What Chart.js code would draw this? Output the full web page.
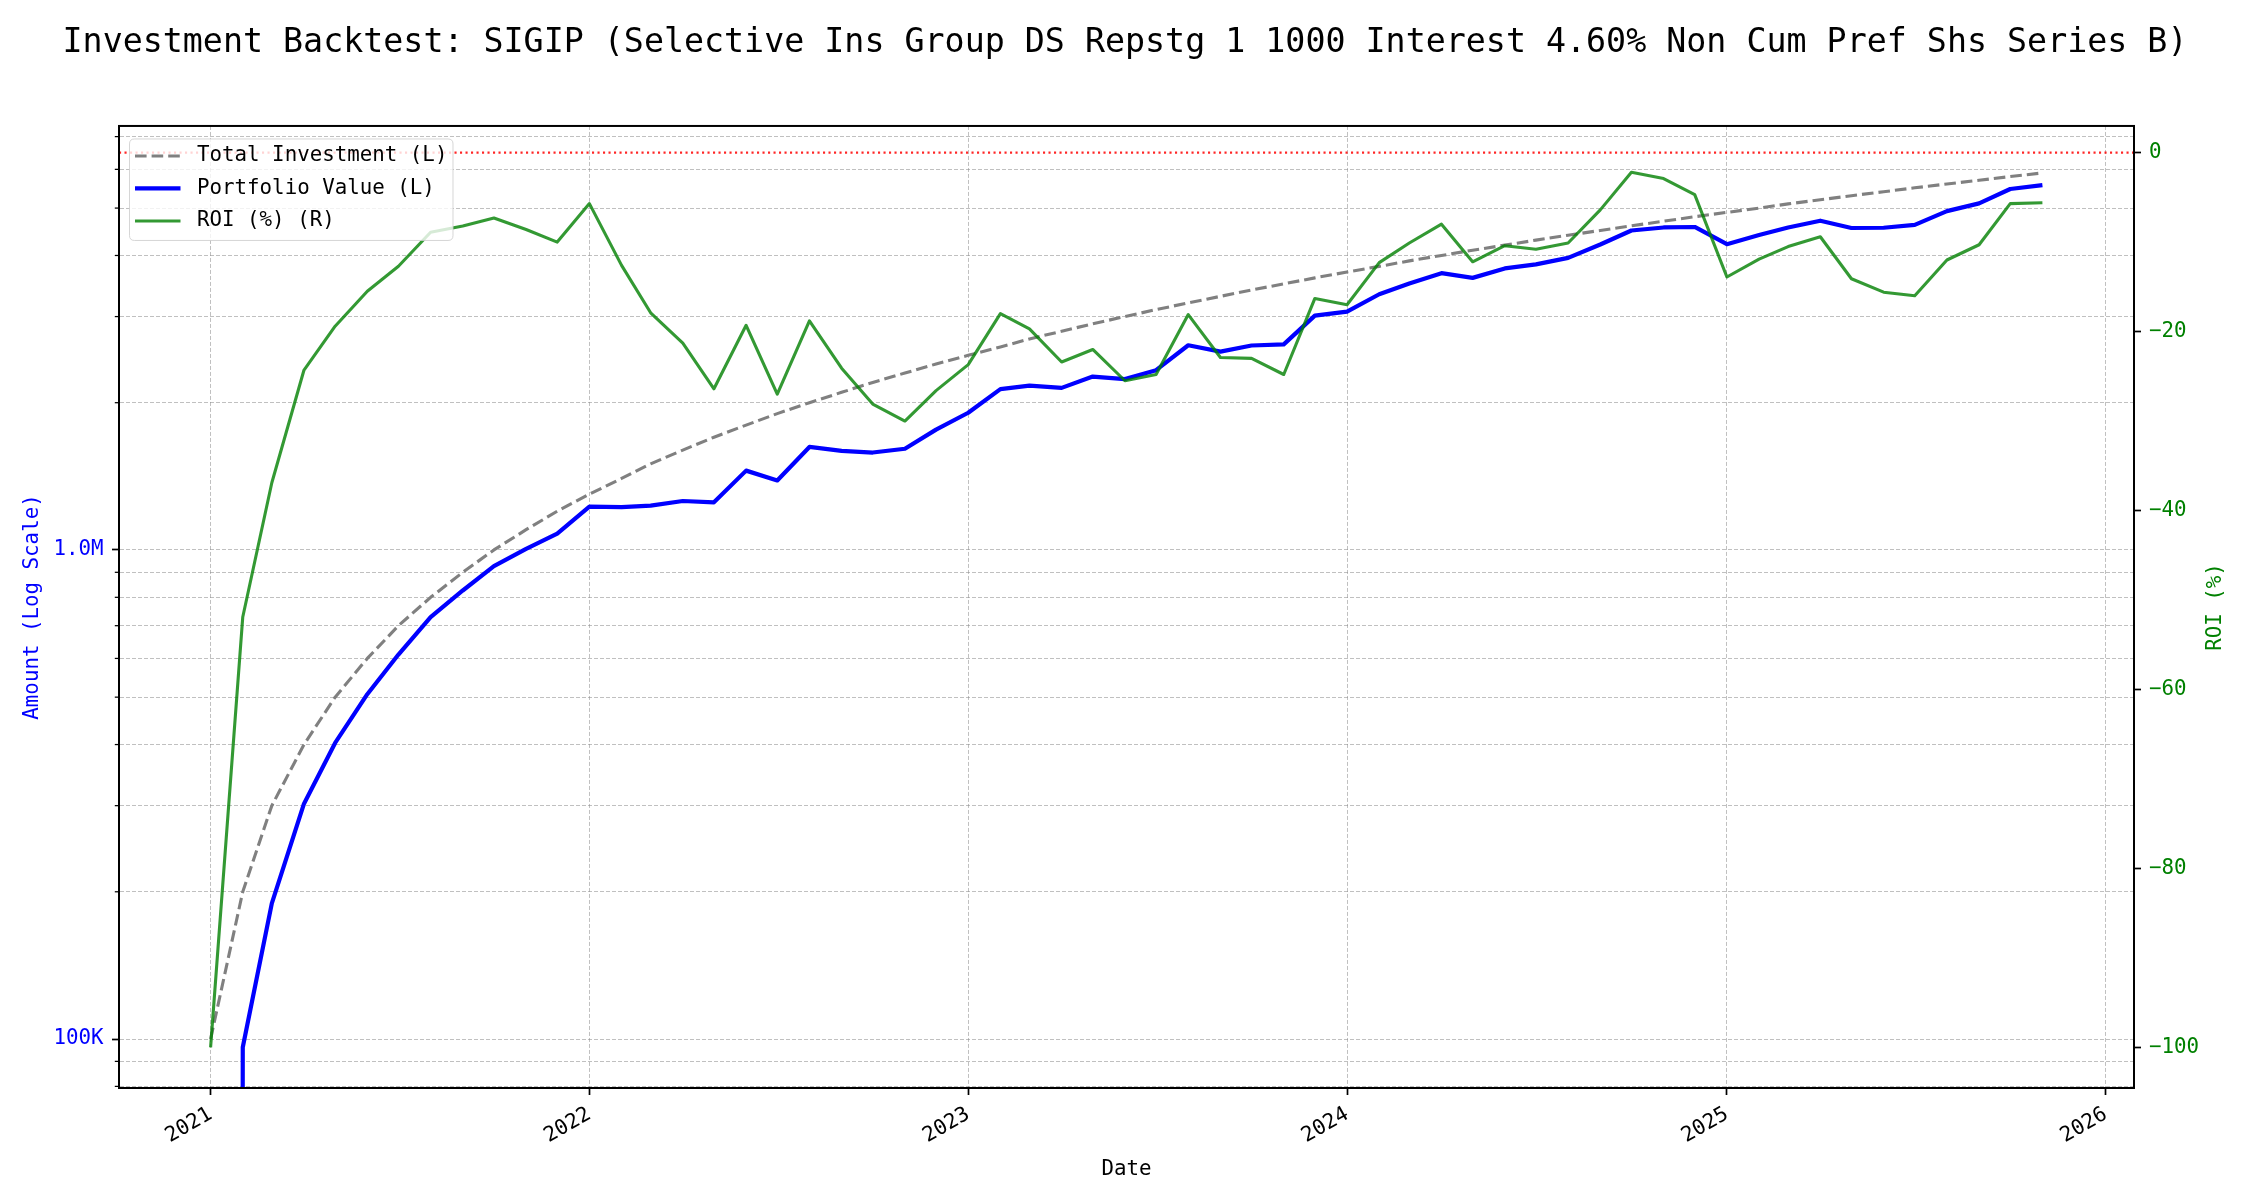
<!DOCTYPE html>
<html>
<head>
<meta charset="utf-8">
<script src="https://cdn.jsdelivr.net/npm/chart.js@4.4.1/dist/chart.umd.min.js"></script>
<style>
html,body{margin:0;padding:0;background:#ffffff;}
#wrap{width:2250px;height:1200px;}
</style>
</head>
<body>
<div id="wrap"><canvas id="c" width="2250" height="1200"></canvas></div>
<script>
// ---------------- DATA ----------------
const titleText = 'Investment Backtest: SIGIP (Selective Ins Group DS Repstg 1 1000 Interest 4.60% Non Cum Pref Shs Series B)';
const rightAxisTitle = 'ROI (%)';

const dates = [
  '2021-01-01','2021-02-01','2021-03-01','2021-04-01','2021-05-01','2021-06-01',
  '2021-07-01','2021-08-01','2021-09-01','2021-10-01','2021-11-01','2021-12-01',
  '2022-01-01','2022-02-01','2022-03-01','2022-04-01','2022-05-01','2022-06-01',
  '2022-07-01','2022-08-01','2022-09-01','2022-10-01','2022-11-01','2022-12-01',
  '2023-01-01','2023-02-01','2023-03-01','2023-04-01','2023-05-01','2023-06-01',
  '2023-07-01','2023-08-01','2023-09-01','2023-10-01','2023-11-01','2023-12-01',
  '2024-01-01','2024-02-01','2024-03-01','2024-04-01','2024-05-01','2024-06-01',
  '2024-07-01','2024-08-01','2024-09-01','2024-10-01','2024-11-01','2024-12-01',
  '2025-01-01','2025-02-01','2025-03-01','2025-04-01','2025-05-01','2025-06-01',
  '2025-07-01','2025-08-01','2025-09-01','2025-10-01','2025-11-01'
];

const totalInvestment = [
  100000, 200000, 300000, 400000, 500000, 600000, 700000, 800000, 900000, 1000000,
  1100000, 1200000, 1300000, 1400000, 1500000, 1600000, 1700000, 1800000, 1900000, 2000000,
  2100000, 2200000, 2300000, 2400000, 2500000, 2600000, 2700000, 2800000, 2900000, 3000000,
  3100000, 3200000, 3300000, 3400000, 3500000, 3600000, 3700000, 3800000, 3900000, 4000000,
  4100000, 4200000, 4300000, 4400000, 4500000, 4600000, 4700000, 4800000, 4900000, 5000000,
  5100000, 5200000, 5300000, 5400000, 5500000, 5600000, 5700000, 5800000, 5900000
];

const portfolioValue = [
  0, 96200, 189300, 302800, 403000, 507000, 611100, 728800, 826200, 927000,
  1005400, 1080000, 1225900, 1223600, 1231500, 1259200, 1251200, 1452600, 1387000, 1624000,
  1593900, 1581800, 1610000, 1761600, 1907500, 2132000, 2168100, 2144800, 2262000, 2235000,
  2331200, 2620800, 2544300, 2618000, 2632000, 3013200, 3071000, 3332600, 3506100, 3680000,
  3599800, 3763200, 3835600, 3955600, 4212000, 4498800, 4563700, 4574400, 4218900, 4405000,
  4564500, 4711200, 4552700, 4557600, 4620000, 4928000, 5112900, 5469400, 5569600
];

const roiPct = [
  -100, -51.9, -36.9, -24.3, -19.4, -15.5, -12.7, -8.9, -8.2, -7.3,
  -8.6, -10.0, -5.7, -12.6, -17.9, -21.3, -26.4, -19.3, -27.0, -18.8,
  -24.1, -28.1, -30.0, -26.6, -23.7, -18.0, -19.7, -23.4, -22.0, -25.5,
  -24.8, -18.1, -22.9, -23.0, -24.8, -16.3, -17.0, -12.3, -10.1, -8.0,
  -12.2, -10.4, -10.8, -10.1, -6.4, -2.2, -2.9, -4.7, -13.9, -11.9,
  -10.5, -9.4, -14.1, -15.6, -16.0, -12.0, -10.3, -5.7, -5.6
];

const yearTicks = [2021, 2022, 2023, 2024, 2025, 2026];
const amountMajorTicks = [100000, 1000000];
const amountMinorTicks = [80000, 90000, 200000, 300000, 400000, 500000, 600000, 700000, 800000, 900000,
  2000000, 3000000, 4000000, 5000000, 6000000, 7000000];
const roiTicks = [-100, -80, -60, -40, -20, 0];

// ---------------- HELPERS ----------------
const DAY = 86400000;
function toDay(s) { const p = s.split('-').map(Number); return Date.UTC(p[0], p[1] - 1, p[2]) / DAY; }
const xs = dates.map(toDay);
const xSpan = xs[xs.length - 1] - xs[0];
const xMin = xs[0] - 0.05 * xSpan;
const xMax = xs[xs.length - 1] + 0.05 * xSpan;
// matplotlib log-scale "clip" behaviour for non-positive values
const logClip = v => (v > 0 ? v : 1e-300);
function fmtAmount(v) {
  if (v >= 1e6) return (v / 1e6).toFixed(1) + 'M';
  return Math.round(v / 1e3) + 'K';
}
const FONT = "'DejaVu Sans Mono', 'Liberation Mono', monospace";
const FS = 20.8;
const GRID = 'rgba(140,140,140,0.55)';

Chart.defaults.font.family = FONT;
Chart.defaults.font.size = FS;
Chart.defaults.color = '#000000';

// ---------------- PLUGINS ----------------
const decorPlugin = {
  id: 'decor',
  afterDatasetsDraw(chart) {
    const ctx = chart.ctx, a = chart.chartArea;
    const y0 = chart.scales.yR.getPixelForValue(0);
    ctx.save();
    ctx.beginPath(); ctx.rect(a.left, a.top, a.right - a.left, a.bottom - a.top); ctx.clip();
    ctx.strokeStyle = 'rgba(255,0,0,0.85)';
    ctx.lineWidth = 2.1;
    ctx.setLineDash([2.1, 3.4]);
    ctx.beginPath(); ctx.moveTo(a.left, y0); ctx.lineTo(a.right, y0); ctx.stroke();
    ctx.restore();
  },
  afterDraw(chart) {
    const ctx = chart.ctx, a = chart.chartArea;
    const yL = chart.scales.yL;
    ctx.save();
    // minor ticks on log axis
    ctx.strokeStyle = '#000'; ctx.lineWidth = 1.25;
    amountMinorTicks.forEach(v => {
      const y = yL.getPixelForValue(v);
      if (y < a.top - 0.5 || y > a.bottom + 0.5) return;
      ctx.beginPath(); ctx.moveTo(a.left - 4.2, y); ctx.lineTo(a.left, y); ctx.stroke();
    });
    // frame
    ctx.lineWidth = 2; ctx.strokeStyle = '#000';
    ctx.strokeRect(a.left, a.top, a.right - a.left, a.bottom - a.top);

    // right axis title (reads bottom-to-top like matplotlib)
    ctx.save();
    ctx.translate(chart.width - 34.5, (a.top + a.bottom) / 2);
    ctx.rotate(-Math.PI / 2);
    ctx.font = FS + 'px ' + FONT; ctx.fillStyle = '#008000';
    ctx.textAlign = 'center'; ctx.textBaseline = 'middle';
    ctx.fillText(rightAxisTitle, 0, 0);
    ctx.restore();

    // legend (matplotlib style, upper left inside axes)
    const lx = a.left + 10.5, ly = a.top + 13, lw = 323.5, lh = 101.5, r = 5;
    ctx.beginPath();
    ctx.moveTo(lx + r, ly); ctx.lineTo(lx + lw - r, ly); ctx.quadraticCurveTo(lx + lw, ly, lx + lw, ly + r);
    ctx.lineTo(lx + lw, ly + lh - r); ctx.quadraticCurveTo(lx + lw, ly + lh, lx + lw - r, ly + lh);
    ctx.lineTo(lx + r, ly + lh); ctx.quadraticCurveTo(lx, ly + lh, lx, ly + lh - r);
    ctx.lineTo(lx, ly + r); ctx.quadraticCurveTo(lx, ly, lx + r, ly); ctx.closePath();
    ctx.fillStyle = 'rgba(255,255,255,0.8)'; ctx.fill();
    ctx.lineWidth = 1; ctx.strokeStyle = 'rgba(204,204,204,0.8)'; ctx.stroke();
    ctx.font = FS + 'px ' + FONT; ctx.textBaseline = 'middle'; ctx.textAlign = 'left';
    [0, 1, 2].forEach((k) => {
      const ds = chart.data.datasets[k];
      const cy = ly + 17 + k * 32.5;
      ctx.save();
      ctx.strokeStyle = ds.borderColor; ctx.lineWidth = ds.borderWidth;
      ctx.setLineDash(ds.borderDash || []);
      ctx.beginPath(); ctx.moveTo(lx + 5.5, cy); ctx.lineTo(lx + 51, cy); ctx.stroke();
      ctx.restore();
      ctx.fillStyle = '#000';
      ctx.fillText(ds.label, lx + 67.5, cy);
    });
    ctx.restore();
  }
};

// ---------------- CHART ----------------
new Chart(document.getElementById('c'), {
  type: 'line',
  data: {
    datasets: [
      {
        label: 'Total Investment (L)',
        data: xs.map((x, i) => ({ x, y: totalInvestment[i] })),
        yAxisID: 'yL', borderColor: '#808080', borderWidth: 3.1, borderDash: [11.6, 5],
        pointRadius: 0, order: 2, clip: 0, borderJoinStyle: 'round'
      },
      {
        label: 'Portfolio Value (L)',
        data: xs.map((x, i) => ({ x, y: logClip(portfolioValue[i]) })),
        yAxisID: 'yL', borderColor: '#0000ff', borderWidth: 4.2,
        pointRadius: 0, order: 1, clip: 0, borderJoinStyle: 'round'
      },
      {
        label: 'ROI (%) (R)',
        data: xs.map((x, i) => ({ x, y: roiPct[i] })),
        yAxisID: 'yR', borderColor: 'rgba(0,128,0,0.8)', borderWidth: 3.1,
        pointRadius: 0, order: 0, clip: 0, borderJoinStyle: 'round'
      }
    ]
  },
  options: {
    responsive: false,
    animation: false,
    devicePixelRatio: 1,
    layout: { padding: 0 },
    plugins: {
      legend: { display: false },
      tooltip: { enabled: false },
      title: {
        display: true, text: titleText, color: '#000',
        font: { size: 33.3, family: FONT, weight: 'normal' },
        padding: { top: 23, bottom: 63 }
      }
    },
    scales: {
      x: {
        type: 'linear', position: 'bottom', min: xMin, max: xMax, bounds: 'data',
        afterBuildTicks: s => { s.ticks = yearTicks.map(y => ({ value: Date.UTC(y, 0, 1) / DAY })); },
        afterFit: s => { s.height = 112; },
        ticks: {
          autoSkip: false, minRotation: 30, maxRotation: 30, padding: 7, color: '#000',
          callback: v => String(new Date(v * DAY).getUTCFullYear())
        },
        grid: { color: GRID, lineWidth: 1, tickLength: 7, tickColor: '#000', tickWidth: 1.7 },
        border: { display: true, color: '#000', width: 2, dash: [4, 2] },
        title: { display: true, text: 'Date', color: '#000', padding: { top: 0, bottom: 18 } }
      },
      yL: {
        type: 'logarithmic', position: 'left', min: 79400, max: 7360000, bounds: 'data',
        afterBuildTicks: s => {
          s.ticks = amountMinorTicks.concat(amountMajorTicks).sort((a, b) => a - b).map(v => ({ value: v }));
        },
        afterFit: s => { s.width = 119; },
        ticks: {
          autoSkip: false, color: '#0000ff', padding: 8.5,
          callback: v => (amountMajorTicks.includes(v) ? fmtAmount(v) : '')
        },
        grid: {
          color: GRID, lineWidth: 1, tickLength: 7, tickWidth: 1.7,
          tickColor: c => (c.tick && amountMajorTicks.includes(c.tick.value) ? '#000' : 'rgba(0,0,0,0)')
        },
        border: { display: true, color: '#000', width: 2, dash: [4, 2] },
        title: { display: true, text: 'Amount (Log Scale)', color: '#0000ff', padding: { top: 20.5, bottom: 0 } }
      },
      yR: {
        type: 'linear', position: 'right', min: -104.55, max: 2.98, bounds: 'data',
        afterBuildTicks: s => { s.ticks = roiTicks.map(v => ({ value: v })); },
        afterFit: s => { s.width = 116; },
        ticks: {
          autoSkip: false, color: '#008000', padding: 8,
          callback: v => (v < 0 ? '\u2212' + Math.abs(v) : String(v))
        },
        grid: { drawOnChartArea: false, tickLength: 7, tickColor: '#000', tickWidth: 1.7 },
        border: { display: true, color: '#000', width: 2 },
        title: { display: false, text: rightAxisTitle }
      }
    }
  },
  plugins: [decorPlugin]
});
</script>
</body>
</html>
